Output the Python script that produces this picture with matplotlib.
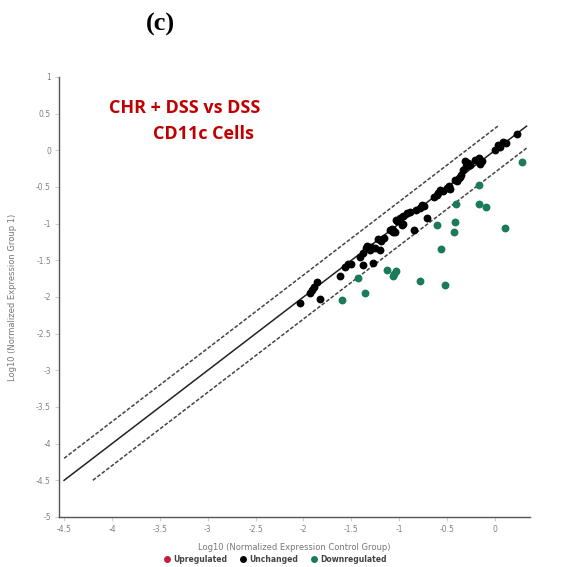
import matplotlib
matplotlib.use("Agg")
import matplotlib.pyplot as plt
from matplotlib.lines import Line2D
from matplotlib.ticker import FuncFormatter
import numpy as np

# --- data: log10 normalized expression (control, group 1) ---
unchanged_x = [-2.04, -1.83, -1.93, -1.91, -1.89, -1.86, -1.62, -1.57, -1.54, -1.50,
               -1.375, -1.27, -1.41, -1.38, -1.35, -1.31, -1.29, -1.20, -1.19, -1.16,
               -1.07, -1.08, -1.04, -0.85, -1.03, -0.99, -0.96, -0.92, -0.89, -0.97,
               -0.82, -0.78, -0.74, -0.71, -0.64, -0.61, -0.54, -0.50, -0.48, -0.42,
               -0.38, -0.35, -0.33, -0.30, -0.31, -0.28, -0.21, -0.17, -0.14, -0.16,
               0.00, 0.035, 0.08, 0.115, 0.05, 0.226, -1.34, -1.25, -1.22, -1.10,
               -1.06, -1.02, -0.765, -0.59, -0.57, -0.47, -0.40, -0.365, -0.26, -0.96]
unchanged_y = [-2.08, -2.03, -1.94, -1.90, -1.86, -1.79, -1.72, -1.585, -1.55, -1.55,
               -1.56, -1.53, -1.45, -1.40, -1.33, -1.36, -1.32, -1.36, -1.23, -1.20,
               -1.09, -1.07, -1.11, -1.09, -0.95, -0.925, -0.89, -0.86, -0.835, -1.02,
               -0.81, -0.79, -0.76, -0.925, -0.64, -0.61, -0.55, -0.52, -0.49, -0.41,
               -0.38, -0.33, -0.27, -0.22, -0.15, -0.17, -0.13, -0.11, -0.15, -0.18,
               0.007, 0.075, 0.12, 0.10, 0.05, 0.225, -1.31, -1.33, -1.21, -1.08,
               -1.11, -0.97, -0.74, -0.58, -0.54, -0.53, -0.425, -0.36, -0.20, -1.00]

down_x = [0.279, -0.164, -0.41, -0.164, -0.094, -0.61, -0.42, -0.425, 0.104, -0.567,
          -1.13, -1.035, -1.06, -1.05, -0.78, -0.525, -1.43, -1.36, -1.60]
down_y = [-0.153, -0.47, -0.73, -0.73, -0.775, -1.02, -0.975, -1.11, -1.06, -1.34,
          -1.63, -1.65, -1.71, -1.68, -1.78, -1.83, -1.74, -1.94, -2.04]

up_x = []
up_y = []

# fold-change guide lines (log10 2 ~ 0.3)
fold = 0.3
line_lo, line_hi = -4.5, 0.33

c_up = "#c0203a"
c_unch = "#000000"
c_down = "#1b7a58"

plt.rcParams["axes.unicode_minus"] = False
plt.rcParams["font.family"] = "DejaVu Sans"

fig = plt.figure(figsize=(5.67, 5.67), dpi=100)
ax = fig.add_axes([0.1046, 0.0882, 0.830, 0.776])

# guide lines
xs = np.array([line_lo, line_hi])
ax.plot(xs, xs, color="#222222", lw=1.1, zorder=1)
ax.plot([line_lo, line_hi - fold], [line_lo + fold, line_hi], color="#444444",
        lw=1.1, ls=(0, (2.5, 1.2)), zorder=1)
ax.plot([line_lo + fold, line_hi], [line_lo, line_hi - fold], color="#444444",
        lw=1.1, ls=(0, (2.5, 1.2)), zorder=1)

# points
ax.scatter(unchanged_x, unchanged_y, s=32, color=c_unch, lw=0, zorder=3)
ax.scatter(down_x, down_y, s=32, color=c_down, lw=0, zorder=3)
ax.scatter(up_x, up_y, s=32, color=c_up, lw=0, zorder=3)

ax.set_xlim(-4.55, 0.365)
ax.set_ylim(-5, 1)
ax.set_xticks(np.arange(-4.5, 0.01, 0.5))
ax.set_yticks(np.arange(-5, 1.01, 0.5))
fmt = FuncFormatter(lambda v, p: "%g" % round(v, 2))
ax.xaxis.set_major_formatter(fmt)
ax.yaxis.set_major_formatter(fmt)

for s in ["top", "right"]:
    ax.spines[s].set_visible(False)
for s in ["left", "bottom"]:
    ax.spines[s].set_color("#555555")
    ax.spines[s].set_linewidth(1.0)
ax.tick_params(length=3, width=0.8, color="#c9d1dc", labelcolor="#808080",
               labelsize=5.5, pad=3)

ax.set_xlabel("Log10 (Normalized Expression Control Group)", fontsize=6,
              color="#777777", labelpad=6)
ax.set_ylabel("Log10 (Normalized Expression Group 1)", fontsize=6,
              color="#777777", labelpad=14)

# headings
fig.text(0.283, 0.956, "(c)", family="Liberation Serif", fontweight="bold",
         fontsize=19, ha="center", va="center")
fig.text(0.326, 0.810, "CHR + DSS vs DSS", family="Open Sans", fontweight="bold",
         fontsize=13, color="#c00000", ha="center", va="center")
fig.text(0.359, 0.763, "CD11c Cells", family="Open Sans", fontweight="bold",
         fontsize=13, color="#c00000", ha="center", va="center")

# legend
handles = [Line2D([], [], ls="none", marker="o", ms=5, color=c, mec="none")
           for c in (c_up, c_unch, c_down)]
leg = fig.legend(handles, ["Upregulated", "Unchanged", "Downregulated"],
                 loc="center", bbox_to_anchor=(0.485, 0.013), ncol=3,
                 frameon=False, fontsize=5.5, handletextpad=0.3,
                 columnspacing=1.6, handlelength=1.0)
for t in leg.get_texts():
    t.set_color("#444444")
    t.set_fontweight("bold")

fig.savefig("out.png", dpi=100)
